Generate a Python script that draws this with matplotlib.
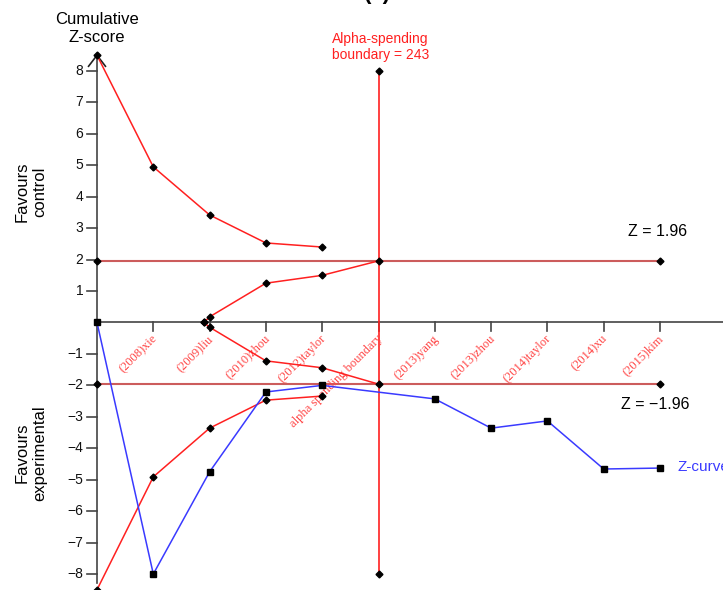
import matplotlib
matplotlib.use("Agg")
import matplotlib.pyplot as plt

# ---- data ----
labels = ["(2008)xie", "(2009)liu", "(2010)zhou", "(2012)taylor", "alpha spending boundary",
          "(2013)yang", "(2013)zhou", "(2014)taylor", "(2014)xu", "(2015)kim"]
label_pos = [1, 2, 3, 4, 5, 6, 7, 8, 9, 10]

z_x = [0, 1, 2, 3, 4, 6, 7, 8, 9, 10]
z_y = [0.0, -8.0, -4.75, -2.21, -2.0, -2.43, -3.36, -3.13, -4.66, -4.63]

ub_x = [0, 1, 2, 3, 4]
ub_y = [8.5, 4.95, 3.42, 2.53, 2.40]
lb_x = [0, 1, 2, 3, 4]
lb_y = [-8.5, -4.91, -3.36, -2.47, -2.34]

fu_x = [1.9, 2, 3, 4, 5]
fu_up = [0.0, 0.18, 1.25, 1.50, 1.96]
fu_lo = [0.0, -0.15, -1.22, -1.44, -1.96]

z_crit = 1.96
ais_x = 5
ais_top, ais_bot = 8, -8
yticks = [-8, -7, -6, -5, -4, -3, -2, -1, 1, 2, 3, 4, 5, 6, 7, 8]

# ---- figure ----
W, H = 723, 590
fig = plt.figure(figsize=(W / 100, H / 100), dpi=100)
ax = fig.add_axes([0, 0, 1, 1])
ax.set_axis_off()

x0px, dx = 97, 56.3
y0px, dy = 322.5, 31.44
ax.set_xlim(-x0px / dx, (W - x0px) / dx)
ax.set_ylim(-(H - y0px) / dy, y0px / dy)

sans = "Liberation Sans"
serif = "Liberation Serif"
red = "#ff2020"
hred = "#cc5c5c"
blue = "#3a3aff"

# x-axis line (at z=0)
ax.plot([0, 12], [0, 0], color="#444444", lw=1.2, zorder=1)
for p in label_pos:
    ax.plot([p, p], [0, -0.27], color="#444444", lw=1.2, zorder=1)
for p, lab in zip(label_pos, labels):
    ax.text(p - 0.04, -0.32, lab, rotation=45, ha="right", va="top",
            rotation_mode="anchor", color="#ff4444", fontsize=9, family=serif)

# y-axis
ax.plot([0, 0], [-8.3, 8.5], color="#444444", lw=1.2, zorder=1)
ax.plot([-0.15, 0, 0.15], [8.15, 8.5, 8.15], color="#222222", lw=1.2, zorder=1)
for t in yticks:
    ax.plot([-0.17, 0], [t, t], color="#444444", lw=1.2, zorder=1)
    ax.text(-0.24, t, f"{t}".replace("-", "\u2212"), ha="right", va="center",
            fontsize=10, family=sans, color="#111111")

mk = dict(marker="D", markersize=3.5, markerfacecolor="black", markeredgecolor="black")

# critical horizontal lines
for zc in (z_crit, -z_crit):
    ax.plot([0, 10], [zc, zc], color=hred, lw=1.5, zorder=2, **mk)

# alpha spending vertical line
ax.plot([ais_x, ais_x], [ais_bot, ais_top], color=red, lw=1.2, zorder=2, **mk)

# boundaries
ax.plot(ub_x, ub_y, color=red, lw=1.1, zorder=3, **mk)
ax.plot(lb_x, lb_y, color=red, lw=1.1, zorder=3, **mk)
ax.plot(fu_x, fu_up, color=red, lw=1.1, zorder=3, **mk)
ax.plot(fu_x, fu_lo, color=red, lw=1.1, zorder=3, **mk)

# Z-curve
ax.plot(z_x, z_y, color=blue, lw=1.1, zorder=4, marker="s", markersize=4,
        markerfacecolor="black", markeredgecolor="black")

# texts
ax.text((377 - x0px) / dx, (y0px + 7) / dy, "(a)", ha="center", va="center",
        fontsize=16, fontweight="bold", family=sans)
ax.text(0, (y0px - 28) / dy, "Cumulative\nZ-score", ha="center", va="center",
        fontsize=12, family=sans, linespacing=1.25)
ax.text(ais_x + 0.03, (y0px - 47) / dy, "Alpha-spending\nboundary = 243", ha="center",
        va="center", fontsize=10, family=sans, color=red, linespacing=1.1)
ax.text((658 - x0px) / dx, (y0px - 232) / dy, "Z = 1.96", ha="center", va="center",
        fontsize=11.5, family=sans)
ax.text((655 - x0px) / dx, (y0px - 405) / dy, "Z = \u22121.96", ha="center", va="center",
        fontsize=11.5, family=sans)
ax.text((678 - x0px) / dx, (y0px - 467) / dy, "Z-curve", ha="left", va="center",
        fontsize=11, family=sans, color=blue)
ax.text((31 - x0px) / dx, (y0px - 192) / dy, "Favours\ncontrol", ha="center", va="center",
        rotation=90, fontsize=12, family=sans, linespacing=1.15)
ax.text((31 - x0px) / dx, (y0px - 453) / dy, "Favours\nexperimental", ha="center",
        va="center", rotation=90, fontsize=12, family=sans, linespacing=1.15)

fig.savefig("out.png", dpi=100)
